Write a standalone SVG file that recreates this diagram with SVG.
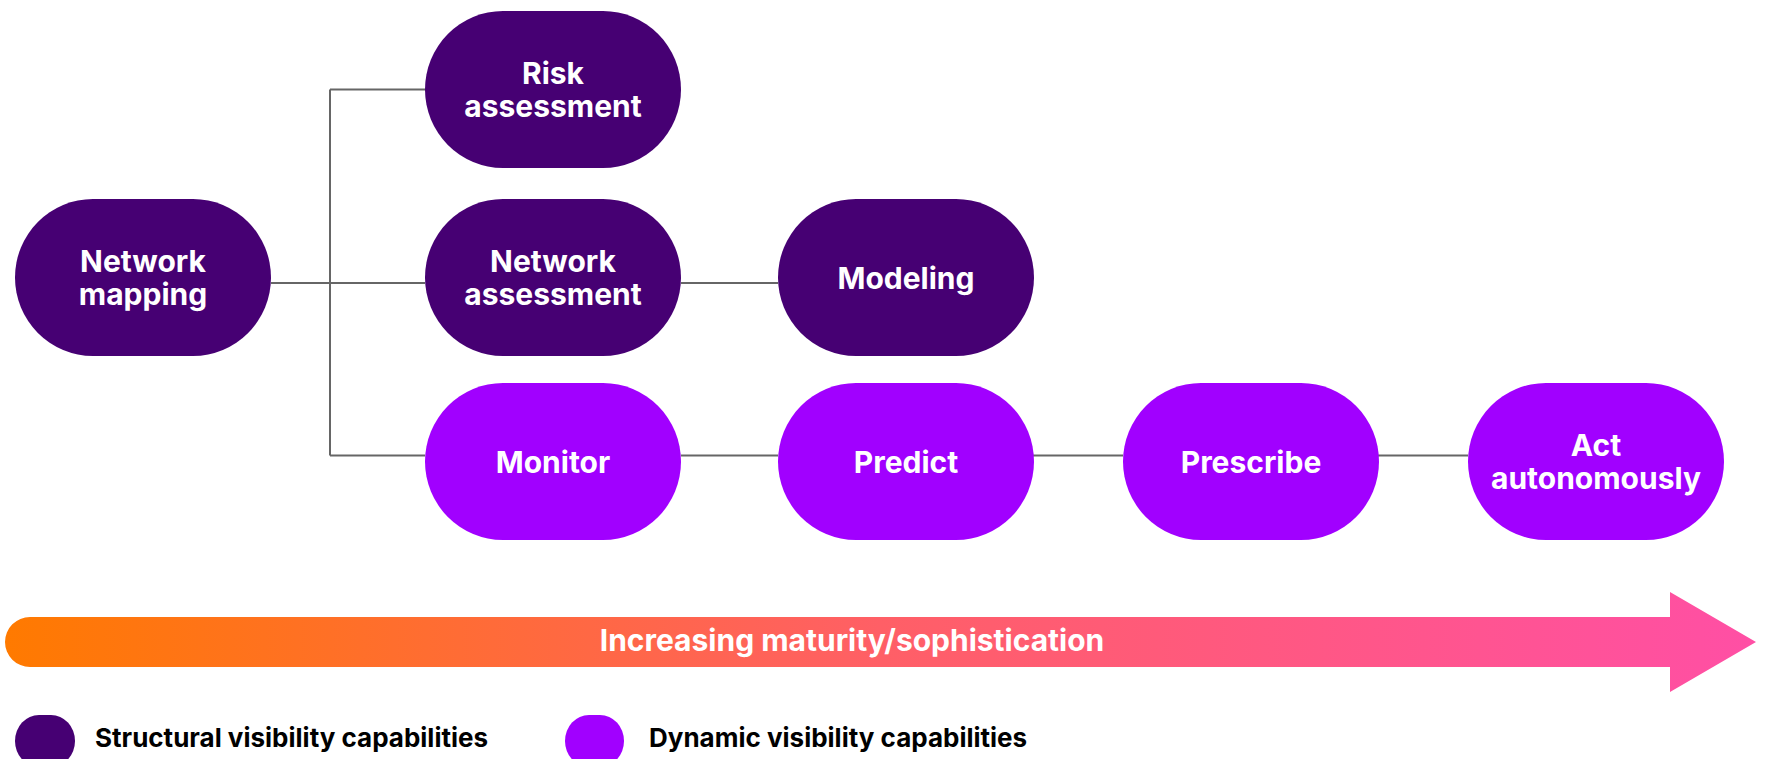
<svg xmlns="http://www.w3.org/2000/svg" width="1773" height="759" viewBox="0 0 1773 759">
<defs>
<linearGradient id="grad" x1="5" y1="0" x2="1756" y2="0" gradientUnits="userSpaceOnUse">
<stop offset="0" stop-color="#FF7A00"/>
<stop offset="0.5" stop-color="#FF5F66"/>
<stop offset="1" stop-color="#FF4FA5"/>
</linearGradient>
<style>
.s{fill:#460073}
.d{fill:#A100FF}
.t{font-family:Inter,"Liberation Sans",sans-serif;font-weight:700;font-size:30px;fill:#fff;text-anchor:middle}
.c{stroke:#666;stroke-width:2;fill:none}
.lg{font-family:Inter,"Liberation Sans",sans-serif;font-weight:700;font-size:26px;fill:#000}
</style>
</defs>
<rect width="1773" height="759" fill="#fff"/>
<g id="connectors">
<path class="c" d="M330 89.5V455.5M330 89.5H425M271 283H425M681 283H778M330 455.5H425M681 455.5H778M1033 455.5H1123M1378 455.5H1468"/>
</g>
<g id="network-mapping"><rect class="s" x="15" y="199" width="256" height="157" rx="78" ry="78.5"/><text class="t" x="143" y="272">Network</text><text class="t" x="143" y="305">mapping</text></g>
<g id="risk-assessment"><rect class="s" x="425" y="11" width="256" height="157" rx="78" ry="78.5"/><text class="t" x="553" y="83.5">Risk</text><text class="t" x="553" y="117">assessment</text></g>
<g id="network-assessment"><rect class="s" x="425" y="199" width="256" height="157" rx="78" ry="78.5"/><text class="t" x="553" y="272">Network</text><text class="t" x="553" y="305">assessment</text></g>
<g id="modeling"><rect class="s" x="778" y="199" width="256" height="157" rx="78" ry="78.5"/><text class="t" x="906" y="289">Modeling</text></g>
<g id="monitor"><rect class="d" x="425" y="383" width="256" height="157" rx="78" ry="78.5"/><text class="t" x="553" y="473">Monitor</text></g>
<g id="predict"><rect class="d" x="778" y="383" width="256" height="157" rx="78" ry="78.5"/><text class="t" x="906" y="473">Predict</text></g>
<g id="prescribe"><rect class="d" x="1123" y="383" width="256" height="157" rx="78" ry="78.5"/><text class="t" x="1251" y="473">Prescribe</text></g>
<g id="act-autonomously"><rect class="d" x="1468" y="383" width="256" height="157" rx="78" ry="78.5"/><text class="t" x="1596" y="456">Act</text><text class="t" x="1596" y="489">autonomously</text></g>
<g id="maturity-arrow">
<path fill="url(#grad)" d="M30 617H1670V592L1756 642L1670 692V667H30A25 25 0 0 1 30 617Z"/>
<text class="t" x="852" y="651" font-size="32">Increasing maturity/sophistication</text>
</g>
<g id="legend">
<rect class="s" x="15" y="715" width="60" height="52" rx="24" ry="26"/>
<text class="lg" x="95" y="747">Structural visibility capabilities</text>
<rect class="d" x="565" y="715" width="59" height="52" rx="24" ry="26"/>
<text class="lg" x="649" y="747">Dynamic visibility capabilities</text>
</g>
</svg>
